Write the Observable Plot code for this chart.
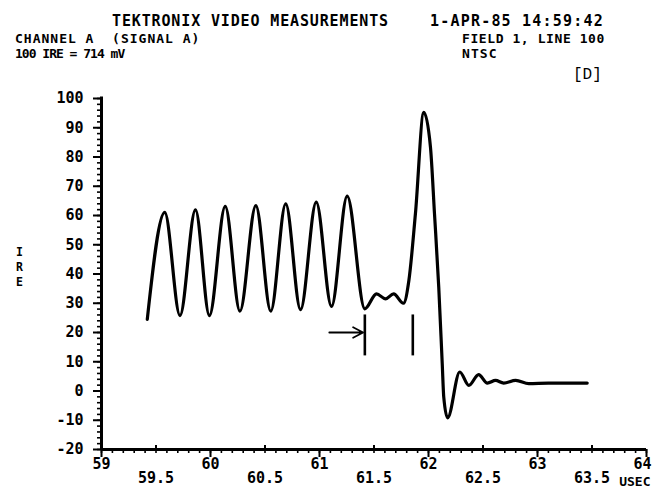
<!DOCTYPE html>
<html>
<head>
<meta charset="utf-8">
<script src="https://cdn.jsdelivr.net/npm/d3@7"></script>
<script src="https://cdn.jsdelivr.net/npm/@observablehq/plot@0.6"></script>
<style>
  html, body { margin: 0; padding: 0; background: #fff; }
  #page { width: 663px; height: 491px; position: relative; overflow: hidden; }
  #header { position: relative; width: 663px; height: 80px; }
  #header span { position: absolute; display: inline-block; white-space: pre; color: #000;
    font-family: "DejaVu Sans Mono", monospace; font-weight: bold; }
  #header span.big { font-size: 15px; line-height: 17.46px; height: 17.46px; }
  #header span.small { font-size: 13px; line-height: 15.13px; height: 15.13px; }
  #chart svg { display: block; }
</style>
</head>
<body>
<div id="page">
  <div id="header">
    <span class="big" style="left:112px; top:13.1px; letter-spacing:0.86px;">TEKTRONIX VIDEO MEASUREMENTS</span>
    <span class="big" style="left:430px; top:13.1px; letter-spacing:1.2px;">1-APR-85 14:59:42</span>
    <span class="small" style="left:15px; top:30.5px; letter-spacing:1.0px;">CHANNEL A  (SIGNAL A)</span>
    <span class="small" style="left:462px; top:30.5px; letter-spacing:0.58px;">FIELD 1, LINE 100</span>
    <span class="small" style="left:15px; top:45.9px; letter-spacing:-1.0px;">100 IRE = 714 mV</span>
    <span class="small" style="left:462px; top:45.9px; letter-spacing:1.1px;">NTSC</span>
    <span style="left:573px; top:65.7px; line-height:18.13px; height:18.13px; font-size:16px; font-weight:normal; font-family:'Liberation Mono', monospace;">[D]</span>
  </div>
  <div id="chart"></div>
</div>
<script>
// Waveform samples (time in µs, level in IRE)
const timeUs = [59.42, 59.58, 59.72, 59.862, 59.99, 60.135, 60.27, 60.416, 60.553, 60.69, 60.826, 60.97, 61.11, 61.254, 61.416, 61.523, 61.606, 61.68, 61.77, 61.82, 61.88, 61.957, 62.018, 62.055, 62.094, 62.126, 62.14, 62.175, 62.287, 62.37, 62.46, 62.54, 62.615, 62.69, 62.80, 62.92, 63.10, 63.456];
const levelIre = [24.5, 61.1, 25.8, 61.9, 25.8, 63.1, 27.3, 63.4, 27.3, 64.0, 27.8, 64.6, 28.9, 66.6, 28.1, 33.2, 31.5, 33.2, 30.0, 37.8, 60.6, 95.3, 83.4, 60.6, 35.5, 9.3, -2.1, -9.2, 6.5, 1.9, 5.6, 2.7, 3.6, 2.7, 3.6, 2.5, 2.7, 2.7];

// Measurement cursors
const cursorTimes = [61.416, 61.856];
const cursorLow = 12;
const cursorHigh = 26;
const arrowFrom = [61.09];
const arrowTo = [61.40];
const arrowLevel = [20];

// Axis tick labels
const yTickLabels = [100, 90, 80, 70, 60, 50, 40, 30, 20, 10, 0, -10, -20];
const xIntLabels = [59, 60, 61, 62, 63, 64];
const xHalfLabels = [59.5, 60.5, 61.5, 62.5, 63.5];
const yMinor = d3.range(-20, 100.1, 2);
const xMinor = d3.range(590, 641, 1).map(d => d / 10);

const wave = timeUs.map((t, i) => ({t, v: levelIre[i]}));
const cursors = cursorTimes.map(t => ({t, lo: cursorLow, hi: cursorHigh}));
const arrows = arrowFrom.map((a, i) => ({x1: a, x2: arrowTo[i], y: arrowLevel[i]}));

const pxX = 109;   // px per µs (for tick lengths)
const pxY = 2.925; // px per IRE
const F = "DejaVu Sans Mono";

const chart = Plot.plot({
  width: 663,
  height: 411,
  marginTop: 18,
  marginBottom: 42,
  marginLeft: 101,
  marginRight: 17,
  style: {background: "#fff", color: "#000"},
  x: {domain: [59, 64], axis: null},
  y: {domain: [-20, 100], axis: null},
  marks: [
    // y ticks
    Plot.ruleY(yMinor, {y: d => d, x1: 59 - 4 / pxX, x2: 59, stroke: "#000", strokeWidth: 1.6}),
    Plot.ruleY(yTickLabels, {y: d => d, x1: 59 - 8 / pxX, x2: 59, stroke: "#000", strokeWidth: 2}),
    // x ticks
    Plot.ruleX(xMinor, {x: d => d, y1: -20, y2: -20 - 4 / pxY, stroke: "#000", strokeWidth: 1.6}),
    Plot.ruleX(xIntLabels, {x: d => d, y1: -20, y2: -20 - 8 / pxY, stroke: "#000", strokeWidth: 2}),
    Plot.ruleX(xHalfLabels, {x: d => d, y1: -20, y2: -20 + 4 / pxY, stroke: "#000", strokeWidth: 2}),
    // axis lines
    Plot.ruleX([59], {y1: -20, y2: 100.5, stroke: "#000", strokeWidth: 3}),
    Plot.ruleY([-20], {x1: 59, x2: 64, stroke: "#000", strokeWidth: 3}),
    // tick labels
    Plot.text(yTickLabels, {y: d => d, text: d => String(d), frameAnchor: "left", textAnchor: "end", dx: -18,
      fontFamily: F, fontWeight: "bold", fontSize: 15, fill: "#000"}),
    Plot.text(xIntLabels.filter(d => d < 64), {x: d => d, text: d => String(d), frameAnchor: "bottom", lineAnchor: "top", dy: 9,
      fontFamily: F, fontWeight: "bold", fontSize: 15, fill: "#000"}),
    Plot.text(xIntLabels.filter(d => d === 64), {x: d => d, text: d => String(d), frameAnchor: "bottom", lineAnchor: "top", dy: 9, dx: -4,
      fontFamily: F, fontWeight: "bold", fontSize: 15, fill: "#000"}),
    Plot.text(xHalfLabels, {x: d => d, text: d => d.toFixed(1), frameAnchor: "bottom", lineAnchor: "top", dy: 23,
      fontFamily: F, fontWeight: "bold", fontSize: 15, fill: "#000"}),
    Plot.text(["USEC"], {text: d => d, frameAnchor: "bottom-right", textAnchor: "end", lineAnchor: "top", dx: 4, dy: 27,
      fontFamily: F, fontWeight: "bold", fontSize: 13, fill: "#000"}),
    Plot.text(["I\nR\nE"], {text: d => d, frameAnchor: "left", textAnchor: "middle", lineAnchor: "middle", dx: -82, dy: -8,
      lineHeight: 1.3, fontFamily: F, fontWeight: "bold", fontSize: 11.5, fill: "#000"}),
    // waveform
    Plot.line(wave, {x: "t", y: "v", curve: "monotone-x", stroke: "#000", strokeWidth: 3.2, strokeLinejoin: "round", strokeLinecap: "round"}),
    // cursors
    Plot.ruleX(cursors, {x: "t", y1: "lo", y2: "hi", stroke: "#000", strokeWidth: 2.6}),
    Plot.arrow(arrows, {x1: "x1", x2: "x2", y1: "y", y2: "y", stroke: "#000", strokeWidth: 1.8, headLength: 14, headAngle: 55, bend: 0})
  ]
});
document.getElementById("chart").appendChild(chart);
</script>
</body>
</html>
